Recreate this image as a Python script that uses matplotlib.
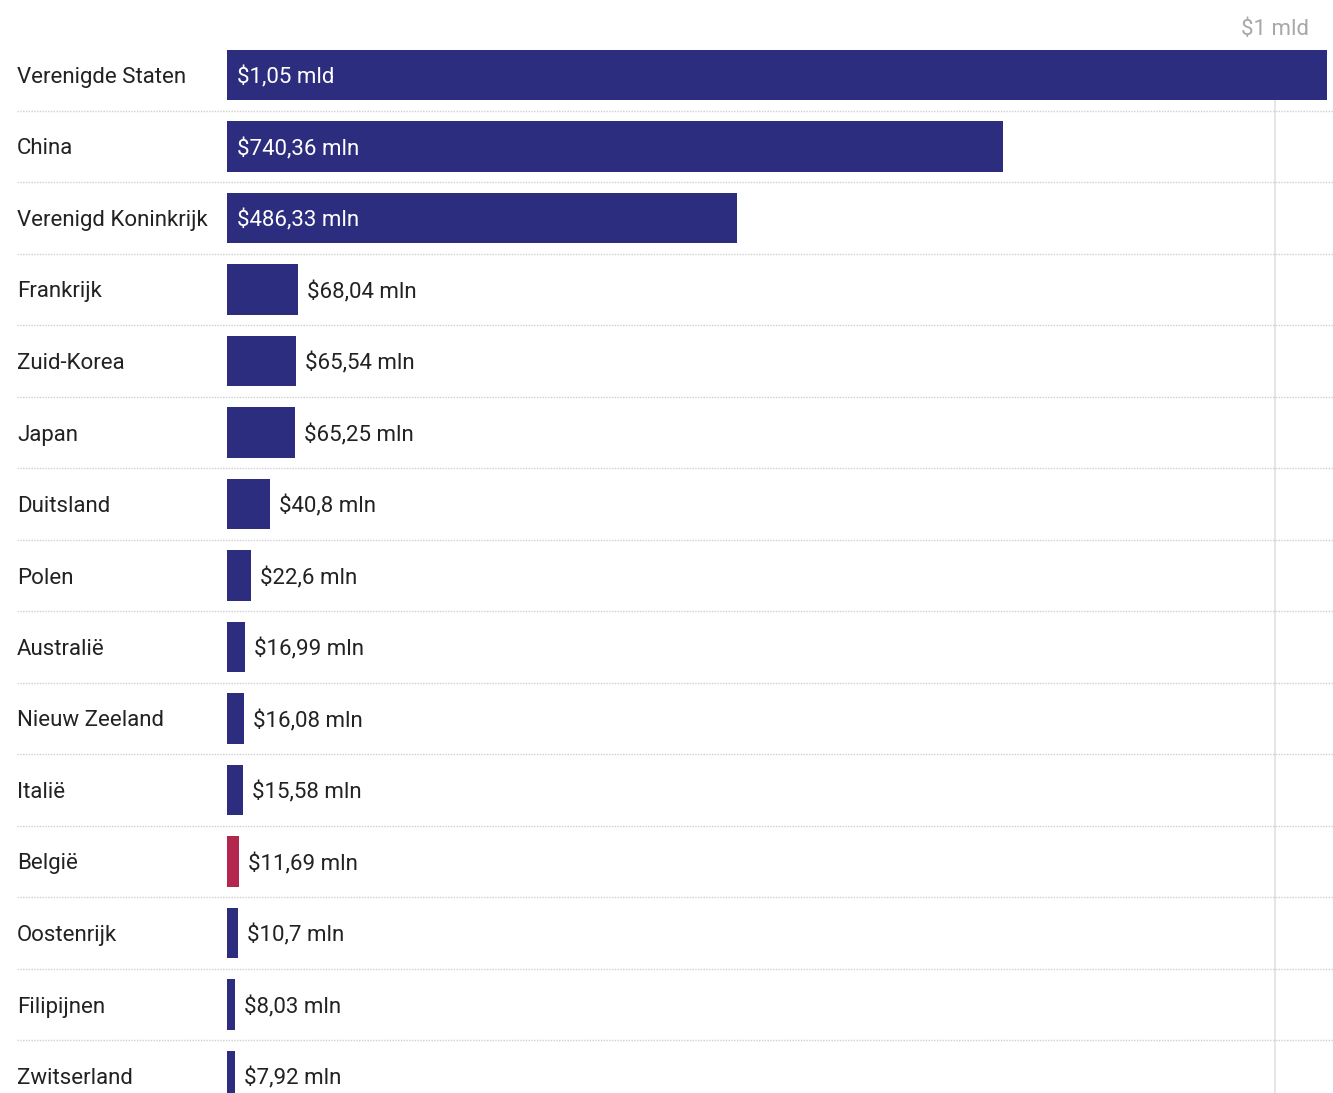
import matplotlib
matplotlib.use("Agg")
import matplotlib.pyplot as plt
from matplotlib.transforms import blended_transform_factory

countries = ["Verenigde Staten", "China", "Verenigd Koninkrijk", "Frankrijk", "Zuid-Korea",
             "Japan", "Duitsland", "Polen", "Australië", "Nieuw Zeeland", "Italië", "België",
             "Oostenrijk", "Filipijnen", "Zwitserland"]
values = [1.05e9, 740.36e6, 486.33e6, 68.04e6, 65.54e6, 65.25e6, 40.8e6, 22.6e6, 16.99e6,
          16.08e6, 15.58e6, 11.69e6, 10.7e6, 8.03e6, 7.92e6]
value_labels = ["$1,05 mld", "$740,36 mln", "$486,33 mln", "$68,04 mln", "$65,54 mln",
                "$65,25 mln", "$40,8 mln", "$22,6 mln", "$16,99 mln", "$16,08 mln",
                "$15,58 mln", "$11,69 mln", "$10,7 mln", "$8,03 mln", "$7,92 mln"]
highlight = "België"
tick_value = 1e9
tick_label = "$1 mld"

W, H = 1333, 1093
plt.rcParams['font.family'] = ['Roboto', 'DejaVu Sans']
fig = plt.figure(figsize=(W / 100, H / 100), dpi=100)
fig.patch.set_facecolor("white")

x0_px, x1_px = 227, 1331
top_px = 39.25
row_px = 71.5
ax = fig.add_axes([x0_px / W, 0, (x1_px - x0_px) / W, (H - top_px) / H])
scale = 1048 / 1e9  # px per unit
ax.set_xlim(0, (x1_px - x0_px) / scale)
n_rows_visible = (H - top_px) / row_px
ybottom = -0.5 + n_rows_visible
ax.set_ylim(ybottom, -0.5)
ax.axis("off")

navy = "#2d2d7f"
red = "#b3264d"
colors = [red if c == highlight else navy for c in countries]
ypos = list(range(len(countries)))
ax.barh(ypos, values, height=0.7, color=colors, zorder=3)

# vertical gridline
ax.vlines(tick_value, 0.35, ybottom, color="#e2e2e2", lw=1.2, zorder=1)
ax.text(tick_value, -0.5 - (top_px - 27) / row_px, tick_label, ha="center",
        va="center_baseline", fontsize=16, color="#a8a8a8", clip_on=False)

fs = 16
trans = blended_transform_factory(fig.transFigure, ax.transData)
for i, (c, v, lab) in enumerate(zip(countries, values, value_labels)):
    ax.text(17 / W, i, c, transform=trans, ha="left", va="center_baseline", fontsize=fs,
            color="#222222", clip_on=False)
    width_px = v * scale
    if width_px > 200:
        ax.text(10 / scale, i, lab, ha="left", va="center_baseline", fontsize=fs,
                color="white", zorder=4)
    else:
        ax.text(v + 9 / scale, i, lab, ha="left", va="center_baseline", fontsize=fs,
                color="#222222", zorder=4)
    if i < len(countries) - 1:
        ax.plot([17 / W, 1], [i + 0.5, i + 0.5], transform=trans, color="#cfcfcf",
                lw=1, ls=(0, (1, 1)), clip_on=False, zorder=2)

fig.savefig("out.png", dpi=100)
